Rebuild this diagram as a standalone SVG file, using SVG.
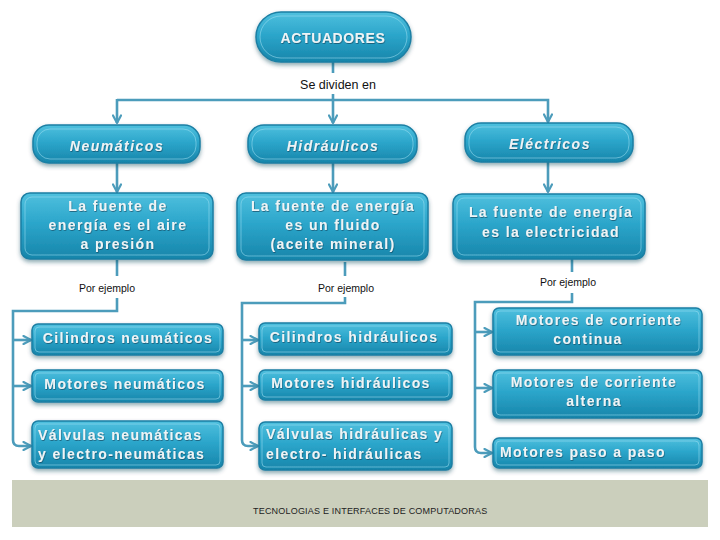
<svg xmlns="http://www.w3.org/2000/svg" width="720" height="540" viewBox="0 0 720 540">
<defs>
<linearGradient id="g" x1="0" y1="0" x2="0" y2="1">
<stop offset="0" stop-color="#4fc0de"/>
<stop offset="0.45" stop-color="#2ca6cb"/>
<stop offset="1" stop-color="#1785aa"/>
</linearGradient>
<filter id="sh" x="-10%" y="-20%" width="120%" height="150%">
<feDropShadow dx="0" dy="2.5" stdDeviation="2" flood-color="#0b3f55" flood-opacity="0.45"/>
</filter>
<filter id="ts" x="-5%" y="-20%" width="110%" height="150%">
<feDropShadow dx="0.6" dy="1" stdDeviation="0.6" flood-color="#0a3d52" flood-opacity="0.6"/>
</filter>
<marker id="ar" viewBox="0 0 10 10" refX="9" refY="5" markerWidth="10" markerHeight="10" markerUnits="userSpaceOnUse" orient="auto">
<path d="M1.5,1 L9,5 L1.5,9" fill="none" stroke="#4c9cbb" stroke-width="2.2" stroke-linecap="round" stroke-linejoin="round"/>
</marker>
</defs>
<style>
.box{fill:url(#g);stroke:#1b7fa4;stroke-width:1.5;filter:url(#sh)}
.hl{fill:none;stroke:#9fe0f2;stroke-opacity:0.55;stroke-width:1}
.t{font-family:"Liberation Sans",Arial,sans-serif;font-size:14px;font-weight:bold;fill:#eef4f6;letter-spacing:1.4px;filter:url(#ts)}
.c{font-family:"Liberation Sans",Arial,sans-serif;font-size:14px;font-weight:bold;font-style:italic;fill:#eef3f5;letter-spacing:1.5px;text-anchor:middle;filter:url(#ts)}
.m{text-anchor:middle}
.lbl{font-family:"Liberation Sans",Arial,sans-serif;fill:#111;text-anchor:middle}
.cn{fill:none;stroke:#4c9cbb;stroke-width:2.6}
</style>
<rect width="720" height="540" fill="#ffffff"/>
<g id="connectors">
<line class="cn" x1="333" y1="62" x2="333" y2="73"/>
<line class="cn" x1="333" y1="94" x2="333" y2="123" marker-end="url(#ar)"/>
<path class="cn" d="M117,100 L548,100 L548,122" marker-end="url(#ar)"/>
<line class="cn" x1="117" y1="99" x2="117" y2="123" marker-end="url(#ar)"/>
<line class="cn" x1="117" y1="163" x2="117" y2="192" marker-end="url(#ar)"/>
<line class="cn" x1="333" y1="163" x2="333" y2="192" marker-end="url(#ar)"/>
<line class="cn" x1="548" y1="162" x2="548" y2="192" marker-end="url(#ar)"/>
<line class="cn" x1="117" y1="260" x2="117" y2="276"/>
<line class="cn" x1="345" y1="262" x2="345" y2="276"/>
<line class="cn" x1="572" y1="259" x2="572" y2="272"/>
<path class="cn" d="M117,298 L117,311 L13,311 L13,440 Q13,446 19,446 L31,446" marker-end="url(#ar)"/>
<path class="cn" d="M13,340 L31,340" marker-end="url(#ar)"/>
<path class="cn" d="M13,386 L31,386" marker-end="url(#ar)"/>
<path class="cn" d="M345,297 L345,303 L242,303 L242,440 Q242,446 248,446 L258,446" marker-end="url(#ar)"/>
<path class="cn" d="M242,340 L258,340" marker-end="url(#ar)"/>
<path class="cn" d="M242,386 L258,386" marker-end="url(#ar)"/>
<path class="cn" d="M572,293 L572,302 L475,302 L475,447 Q475,453 481,453 L492,453" marker-end="url(#ar)"/>
<path class="cn" d="M475,332 L492,332" marker-end="url(#ar)"/>
<path class="cn" d="M475,388 L492,388" marker-end="url(#ar)"/>
</g>
<text class="lbl" x="338" y="89" font-size="12.5">Se dividen en</text>
<text class="lbl" x="107" y="292" font-size="10.5">Por ejemplo</text>
<text class="lbl" x="346" y="292" font-size="10.5">Por ejemplo</text>
<text class="lbl" x="568" y="286" font-size="10.5">Por ejemplo</text>
<g id="actuadores">
<rect class="box" x="256" y="12" width="155" height="50" rx="25"/>
<rect class="hl" x="260" y="16" width="147" height="42" rx="21"/>
<text class="t m" x="333" y="43" font-size="15" style="letter-spacing:0.6px">ACTUADORES</text>
</g>
<g id="neumaticos">
<rect class="box" x="33" y="125" width="167" height="38" rx="16"/>
<rect class="hl" x="37" y="129" width="159" height="30" rx="13"/>
<text class="c" x="117" y="151">Neumáticos</text>
</g>
<g id="hidraulicos">
<rect class="box" x="248" y="125" width="169" height="38" rx="16"/>
<rect class="hl" x="252" y="129" width="161" height="30" rx="13"/>
<text class="c" x="333" y="151">Hidráulicos</text>
</g>
<g id="electricos">
<rect class="box" x="465" y="123" width="168" height="39" rx="16"/>
<rect class="hl" x="469" y="127" width="160" height="31" rx="13"/>
<text class="c" x="550" y="149">Eléctricos</text>
</g>
<g id="fuente-neu">
<rect class="box" x="21" y="193" width="192" height="66" rx="9"/>
<rect class="hl" x="25" y="197" width="184" height="58" rx="7"/>
<text class="t m" x="118" y="211">La fuente de</text>
<text class="t m" x="118" y="230">energía es el aire</text>
<text class="t m" x="118" y="249">a presión</text>
</g>
<g id="fuente-hid">
<rect class="box" x="237" y="193" width="191" height="67" rx="9"/>
<rect class="hl" x="241" y="197" width="183" height="59" rx="7"/>
<text class="t m" x="333" y="211">La fuente de energía</text>
<text class="t m" x="333" y="230">es un fluido</text>
<text class="t m" x="333" y="249">(aceite mineral)</text>
</g>
<g id="fuente-ele">
<rect class="box" x="453" y="194" width="192" height="65" rx="9"/>
<rect class="hl" x="457" y="198" width="184" height="57" rx="7"/>
<text class="t m" x="551" y="217">La fuente de energía</text>
<text class="t m" x="551" y="237">es la electricidad</text>
</g>
<g id="cil-neu">
<rect class="box" x="32" y="324" width="191" height="31" rx="6"/>
<rect class="hl" x="35" y="327" width="185" height="25" rx="4"/>
<text class="t m" x="128" y="343">Cilindros neumáticos</text>
</g>
<g id="mot-neu">
<rect class="box" x="32" y="370" width="191" height="32" rx="6"/>
<rect class="hl" x="35" y="373" width="185" height="26" rx="4"/>
<text class="t m" x="125" y="389">Motores neumáticos</text>
</g>
<g id="val-neu">
<rect class="box" x="32" y="421" width="191" height="47" rx="6"/>
<rect class="hl" x="35" y="424" width="185" height="41" rx="4"/>
<text class="t" x="38" y="440">Válvulas neumáticas</text>
<text class="t" x="38" y="459">y electro-neumáticas</text>
</g>
<g id="cil-hid">
<rect class="box" x="259" y="323" width="193" height="32" rx="6"/>
<rect class="hl" x="262" y="326" width="187" height="26" rx="4"/>
<text class="t m" x="354" y="342">Cilindros hidráulicos</text>
</g>
<g id="mot-hid">
<rect class="box" x="259" y="370" width="193" height="30" rx="6"/>
<rect class="hl" x="262" y="373" width="187" height="24" rx="4"/>
<text class="t m" x="351" y="388">Motores hidráulicos</text>
</g>
<g id="val-hid">
<rect class="box" x="259" y="422" width="193" height="48" rx="6"/>
<rect class="hl" x="262" y="425" width="187" height="42" rx="4"/>
<text class="t" x="266" y="439">Válvulas hidráulicas y</text>
<text class="t" x="266" y="459">electro- hidráulicas</text>
</g>
<g id="mot-cc">
<rect class="box" x="493" y="308" width="209" height="47" rx="6"/>
<rect class="hl" x="496" y="311" width="203" height="41" rx="4"/>
<text class="t m" x="599" y="325">Motores de corriente</text>
<text class="t m" x="588" y="344">continua</text>
</g>
<g id="mot-ca">
<rect class="box" x="493" y="370" width="209" height="48" rx="6"/>
<rect class="hl" x="496" y="373" width="203" height="42" rx="4"/>
<text class="t m" x="594" y="387">Motores de corriente</text>
<text class="t m" x="594" y="406">alterna</text>
</g>
<g id="mot-pp">
<rect class="box" x="493" y="438" width="209" height="30" rx="6"/>
<rect class="hl" x="496" y="441" width="203" height="24" rx="4"/>
<text class="t m" x="583" y="457">Motores paso a paso</text>
</g>
<g id="footer">
<rect x="12" y="480" width="696" height="47" fill="#cbcfbc"/>
<text x="253" y="514" font-family="Liberation Sans,Arial,sans-serif" font-size="9" fill="#222" style="letter-spacing:0.2px">TECNOLOGIAS E INTERFACES DE COMPUTADORAS</text>
</g>
</svg>
